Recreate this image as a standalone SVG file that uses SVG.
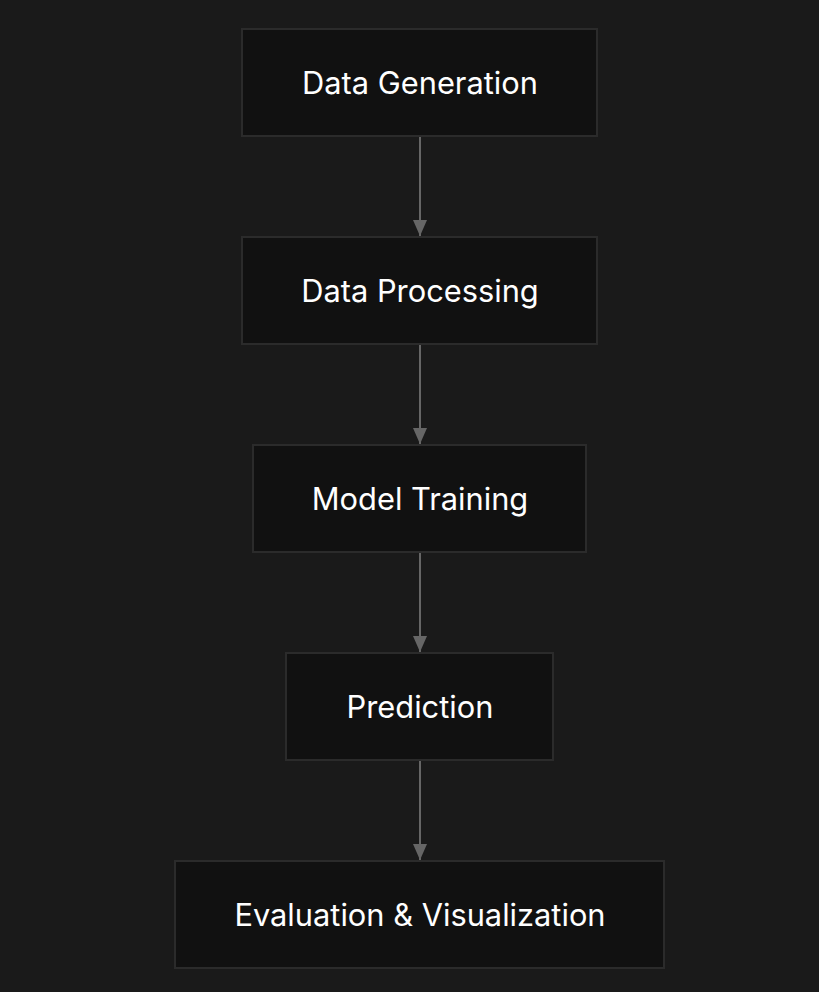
<svg xmlns="http://www.w3.org/2000/svg" width="819" height="992" viewBox="0 0 819 992">
<style>
.bg{fill:#1a1a1a}
.node rect{fill:#111111;stroke:#2b2b2b;stroke-width:2}
.node text{fill:#ffffff;font-family:Inter,"Noto Sans",sans-serif;font-size:30.8px;text-anchor:middle;dominant-baseline:central}
.edge{stroke:#666666;stroke-width:2;fill:none}
</style>
<defs>
<marker id="arr" viewBox="0 0 16 14" refX="16" refY="7" markerWidth="16" markerHeight="14" markerUnits="userSpaceOnUse" orient="auto">
<path d="M0,0 L16,7 L0,14 Z" fill="#666666"/>
</marker>
</defs>
<rect class="bg" x="0" y="0" width="819" height="992"/>
<g id="connectors">
<line class="edge" x1="420" y1="137" x2="420" y2="236" marker-end="url(#arr)"/>
<line class="edge" x1="420" y1="345" x2="420" y2="444" marker-end="url(#arr)"/>
<line class="edge" x1="420" y1="553" x2="420" y2="652" marker-end="url(#arr)"/>
<line class="edge" x1="420" y1="761" x2="420" y2="860" marker-end="url(#arr)"/>
</g>
<g id="n1" class="node"><rect x="242" y="29" width="355" height="107"/><text x="420" y="82.5">Data Generation</text></g>
<g id="n2" class="node"><rect x="242" y="237" width="355" height="107"/><text x="420" y="290.5">Data Processing</text></g>
<g id="n3" class="node"><rect x="253" y="445" width="333" height="107"/><text x="420" y="498.5">Model Training</text></g>
<g id="n4" class="node"><rect x="286" y="653" width="267" height="107"/><text x="420" y="706.5">Prediction</text></g>
<g id="n5" class="node"><rect x="175" y="861" width="489" height="107"/><text x="420" y="914.5">Evaluation &amp; Visualization</text></g>
</svg>
